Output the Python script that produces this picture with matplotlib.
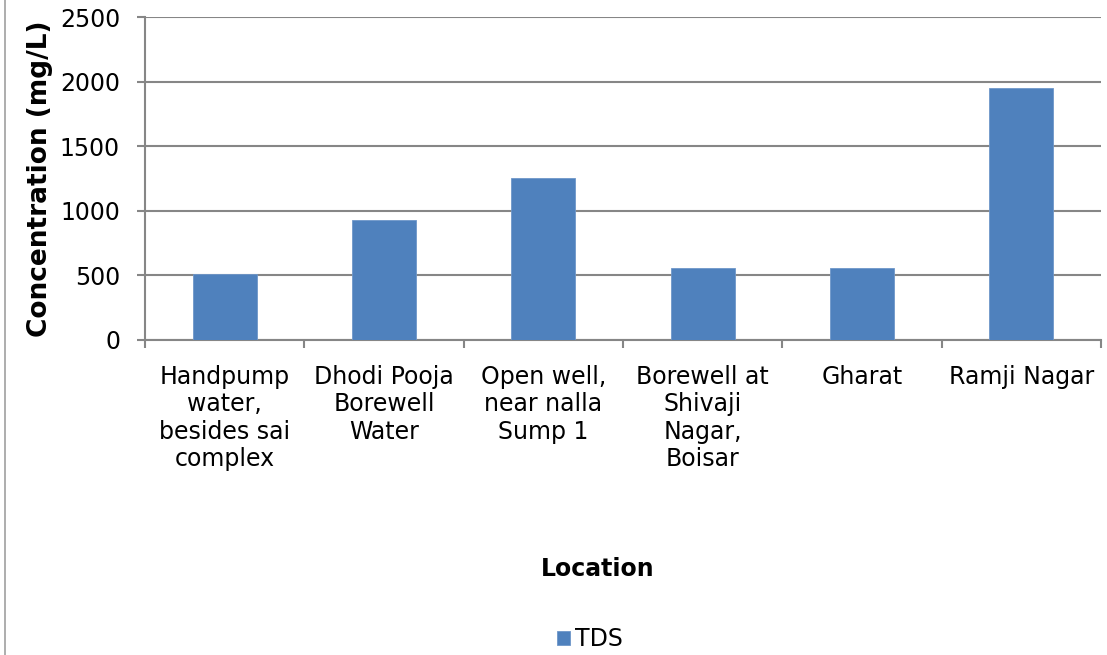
import matplotlib
matplotlib.use("Agg")
from matplotlib import pyplot as plt
from matplotlib.lines import Line2D
import numpy as np

# data
locations = ["Handpump\nwater,\nbesides sai\ncomplex",
             "Dhodi Pooja\nBorewell\nWater",
             "Open well,\nnear nalla\nSump 1",
             "Borewell at\nShivaji\nNagar,\nBoisar",
             "Gharat",
             "Ramji Nagar"]
tds = [510, 925, 1250, 560, 555, 1950]
yticks = [0, 500, 1000, 1500, 2000, 2500]

bar_col = "#4F81BD"
grid_col = "#868686"

plt.rcParams['font.family'] = ['DejaVu Sans']

fig = plt.figure(figsize=(11.07, 6.55), dpi=100)
ax = fig.add_axes([0.131, 0.481, 0.8636, 0.493])

x = np.arange(len(locations))
bars = ax.bar(x, tds, width=0.4, color=bar_col, edgecolor="#6f97c9", lw=0.6,
              label="TDS", zorder=3)

ax.set_xlim(-0.5, len(locations) - 0.5)
ax.set_ylim(0, 2500)
ax.set_yticks(yticks)
ax.set_yticklabels([str(v) for v in yticks], fontsize=17)
ax.yaxis.grid(True, color=grid_col, lw=1.5, zorder=0)

# category labels between boundary ticks
ax.set_xticks(np.arange(len(locations) + 1) - 0.5)
ax.set_xticklabels([])
ax.set_xticks(x, minor=True)
ax.set_xticklabels(locations, minor=True, fontsize=17, linespacing=1.18,
                   va="top", ha="center")
ax.tick_params(axis="x", which="minor", length=0, pad=18)
ax.tick_params(axis="x", which="major", length=6, width=1.5, color=grid_col,
               direction="out")
ax.tick_params(axis="y", length=6, width=1.5, color=grid_col, pad=12)

for s in ["top", "right"]:
    ax.spines[s].set_visible(False)
for s in ["left", "bottom"]:
    ax.spines[s].set_color(grid_col)
    ax.spines[s].set_linewidth(1.5)

ax.set_ylabel("Concentration (mg/L)", fontsize=19, fontweight="bold", labelpad=5)
fig.text(0.54, 0.132, "Location", fontsize=17, fontweight="bold",
         ha="center", va="center")

fig.legend(handles=[bars], loc="center", bbox_to_anchor=(0.533, 0.024),
           frameon=False, fontsize=17, handlelength=0.55, handleheight=0.55,
           handletextpad=0.2, borderpad=0)

# chart frame edge on the left
fig.add_artist(Line2D([5 / 1107, 5 / 1107], [0, 1], color="#a0a0a0", lw=1.2,
                      transform=fig.transFigure))

fig.savefig("out.png", dpi=100)
